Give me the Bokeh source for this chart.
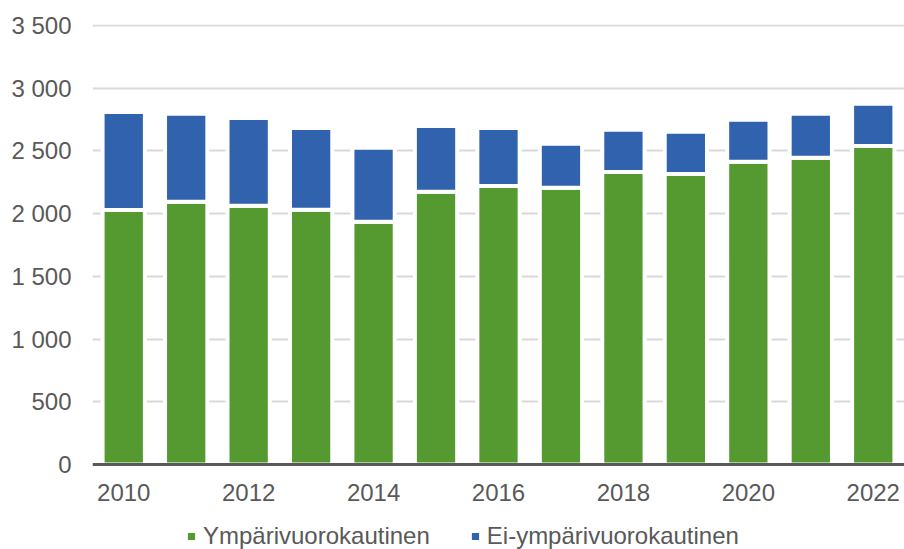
from bokeh.plotting import figure
from bokeh.models import Range1d, FixedTicker, Legend, LegendItem, ColumnDataSource
from bokeh.embed import file_html
from bokeh.resources import INLINE

years = [2010, 2011, 2012, 2013, 2014, 2015, 2016, 2017, 2018, 2019, 2020, 2021, 2022]
ymparivuorokautinen = [2030, 2095, 2063, 2031, 1936, 2175, 2221, 2206, 2333, 2317, 2413, 2445, 2540]
ei_ymparivuorokautinen = [781, 702, 699, 651, 589, 523, 461, 351, 336, 336, 336, 352, 336]
series_names = ["Ympärivuorokautinen", "Ei-ympärivuorokautinen"]
colors = ["#549a30", "#3062ad"]
y_ticks = [0, 500, 1000, 1500, 2000, 2500, 3000, 3500]
y_tick_labels = ["0", "500", "1 000", "1 500", "2 000", "2 500", "3 000", "3 500"]
x_ticks = [2010, 2012, 2014, 2016, 2018, 2020, 2022]

FONT = "Liberation Sans"
TXT = "#595959"

# layout: value axis from 0 (y=464px) to 3500 (y=25px); frame runs to the bottom edge
PX_PER_UNIT = 439 / 3500
Y_START = -85 / PX_PER_UNIT
Y_END = 3500 + 1 / PX_PER_UNIT

src = ColumnDataSource(dict(
    year=years,
    green_top=ymparivuorokautinen,
    blue_bottom=ymparivuorokautinen,
    blue_top=[g + b for g, b in zip(ymparivuorokautinen, ei_ymparivuorokautinen)],
))

p = figure(width=904, height=549, output_backend="svg", toolbar_location=None,
           x_range=Range1d(2009.5, 2022.5), y_range=Range1d(Y_START, Y_END),
           min_border_left=92, min_border_right=0, min_border_top=24, min_border_bottom=0)

r_green = p.vbar(x="year", bottom=0, top="green_top", width=0.677, source=src,
                 fill_color=colors[0], line_color="white", line_width=4)
r_blue = p.vbar(x="year", bottom="blue_bottom", top="blue_top", width=0.677, source=src,
                fill_color=colors[1], line_color="white", line_width=4)

legend = Legend(items=[LegendItem(label=series_names[0], renderers=[r_green]),
                       LegendItem(label=series_names[1], renderers=[r_blue])],
                orientation="horizontal", location=(92, -1),
                glyph_width=14, glyph_height=14, label_standoff=5, spacing=38,
                padding=0, margin=0, border_line_color=None, background_fill_alpha=0,
                label_text_font=FONT, label_text_font_size="24px", label_text_color=TXT)
p.add_layout(legend, "center")

p.outline_line_color = None
p.xgrid.grid_line_color = None
p.ygrid.grid_line_color = "#d9d9d9"
p.ygrid.grid_line_width = 2

p.yaxis.ticker = FixedTicker(ticks=y_ticks)
p.yaxis.major_label_overrides = {t: l for t, l in zip(y_ticks, y_tick_labels)}
p.yaxis.axis_line_color = None
p.yaxis.major_tick_line_color = None
p.yaxis.minor_tick_line_color = None
p.yaxis.major_tick_out = 0
p.yaxis.major_tick_in = 0
p.yaxis.major_label_standoff = 21
p.yaxis.major_label_text_font = FONT
p.yaxis.major_label_text_font_size = "24px"
p.yaxis.major_label_text_color = TXT

p.xaxis.fixed_location = 0
p.xaxis.ticker = FixedTicker(ticks=x_ticks)
p.xaxis.axis_line_color = "#595959"
p.xaxis.axis_line_width = 3
p.xaxis.major_tick_line_color = None
p.xaxis.minor_tick_line_color = None
p.xaxis.major_tick_out = 0
p.xaxis.major_tick_in = 0
p.xaxis.major_label_standoff = 19
p.xaxis.major_label_text_font = FONT
p.xaxis.major_label_text_font_size = "24px"
p.xaxis.major_label_text_color = TXT

open("out.html", "w").write(file_html(p, INLINE))
